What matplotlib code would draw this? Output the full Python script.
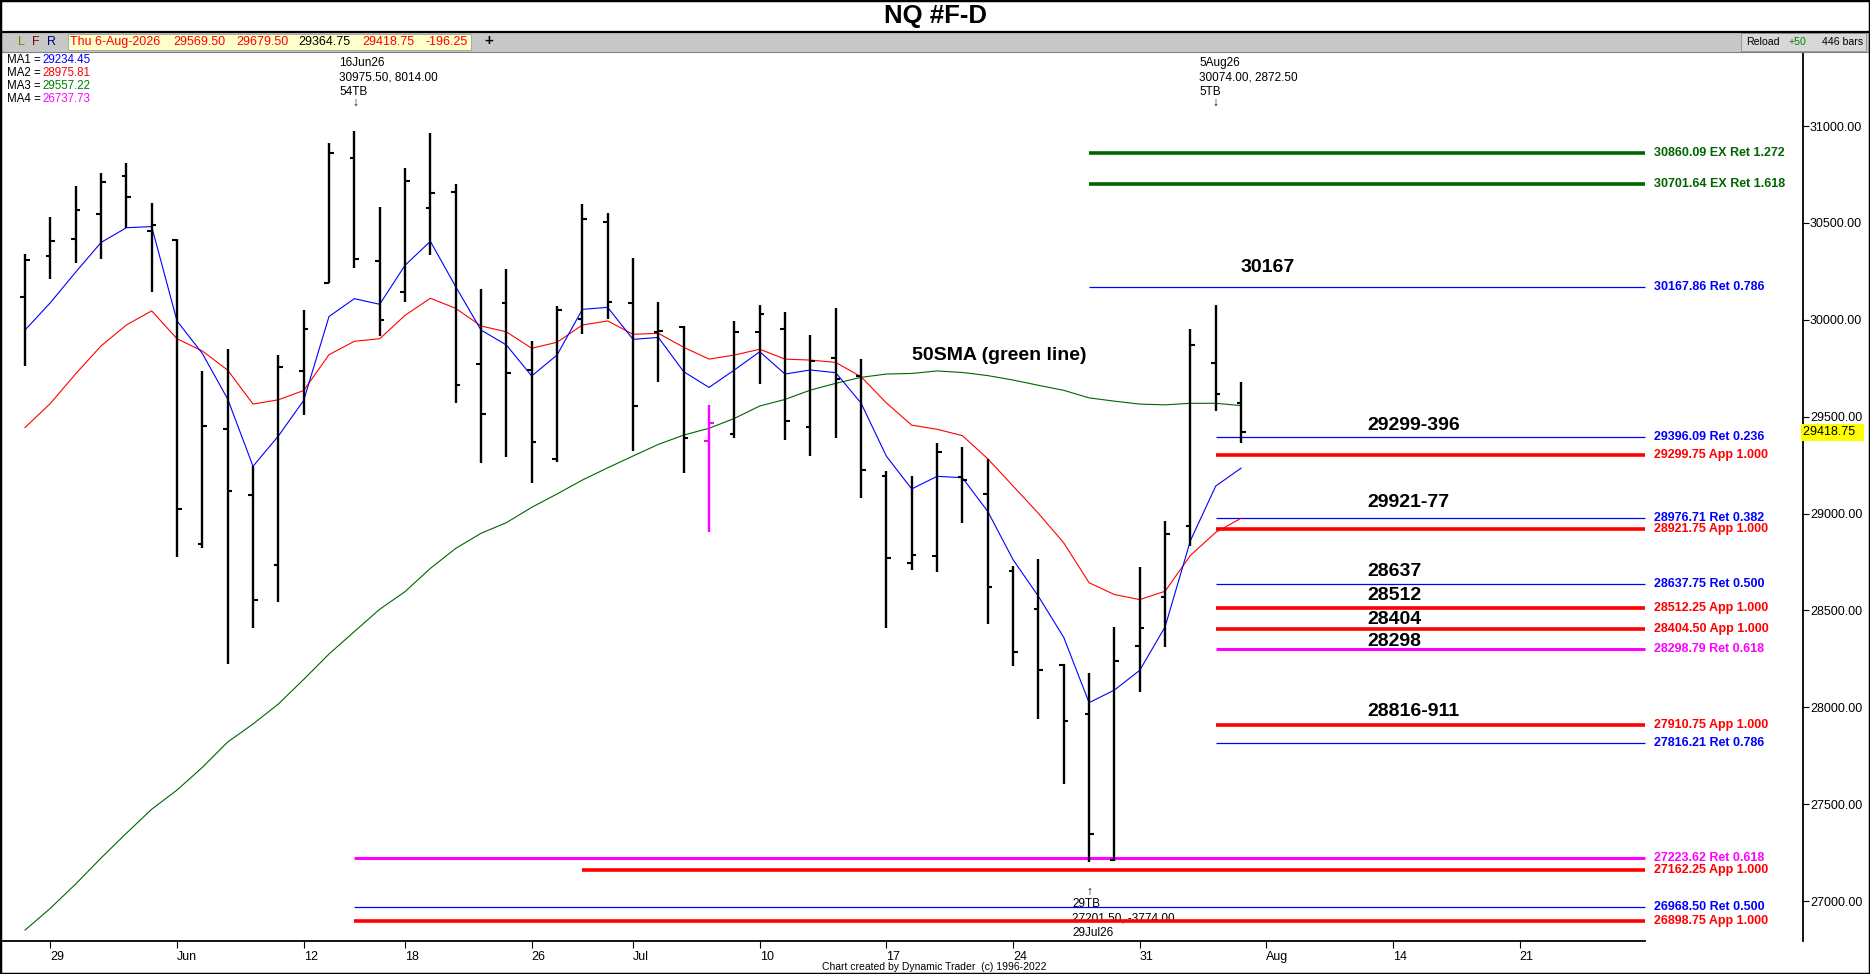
import matplotlib
matplotlib.use("Agg")
import matplotlib.pyplot as plt
import matplotlib.transforms as mtransforms
from matplotlib.patches import Rectangle
import numpy as np

plt.rcParams['font.family'] = ['Liberation Sans', 'DejaVu Sans']

# daily bars, 28 May 2026 .. 6 Aug 2026
opens = [30118, 30330, 30418, 30548, 30742, 30456, 30414, 28843, 29438, 29095,
         28734, 29735, 30191, 30836, 30303, 30145, 30577, 30661, 29772, 30088,
         29741, 29280, 30004, 30506, 30088, 29935, 29961, 29376, 29412, 29938,
         29954, 29448, 29804, 29710, 29192, 28747, 28779, 29190, 29103, 28703,
         28506, 28220, 27966, 27210, 28317, 28567, 28936, 29777, 29569.50]
highs = [30342, 30532, 30689, 30760, 30808, 30602, 30418, 29738, 29847, 29244,
         29820, 30049, 30911, 30975.50, 30580, 30781, 30966, 30699, 30157, 30260,
         29889, 30069, 30596, 30549, 30317, 30090, 29969, 29560, 29994, 30075,
         30040, 29921, 30061, 29797, 29218, 29192, 29363, 29341, 29283, 28730,
         28766, 28226, 28176, 28415, 28723, 28961, 29955, 30074.00, 29679.50]
lows = [29759, 30212, 30292, 30315, 30475, 30145, 28778, 28820, 28224, 28407,
        28545, 29509, 30191, 30269, 29918, 30093, 30332, 29572, 29262, 29293,
        29156, 29268, 29928, 30004, 29324, 29680, 29208, 28906, 29391, 29670,
        29381, 29298, 29391, 29078, 28409, 28708, 28697, 28951, 28430, 28215,
        27942, 27606, 27201.50, 27205, 28079, 28313, 28834, 29528, 29364.75]
closes = [30309, 30409, 30567, 30712, 30634, 30489, 29024, 29452, 29118, 28554,
          29754, 29952, 30861, 30315, 30000, 30718, 30655, 29663, 29515, 29727,
          29371, 30050, 30522, 30093, 29556, 29943, 29391, 29469, 29938, 30031,
          29479, 29789, 29696, 29226, 28773, 28784, 29320, 29175, 28623, 28285,
          28191, 27929, 27346, 28241, 28409, 28892, 29869, 29615, 29418.75]
highlight_bar = 27

ma1 = [29947, 30088, 30246, 30399, 30475, 30481, 29994, 29826, 29591, 29244,
       29400, 29584, 30017, 30109, 30080, 30281, 30405, 30171, 29947, 29870,
       29710, 29818, 30054, 30064, 29899, 29909, 29732, 29651, 29741, 29835,
       29720, 29741, 29727, 29570, 29296, 29127, 29192, 29185, 29011, 28762,
       28573, 28361, 28024, 28089, 28191, 28415, 28860, 29142, 29234.45]
ma2 = [29444, 29568, 29721, 29865, 29973, 30046, 29902, 29839, 29740, 29565,
       29587, 29635, 29820, 29889, 29902, 30023, 30111, 30059, 29968, 29938,
       29853, 29884, 29973, 29994, 29925, 29930, 29858, 29797, 29818, 29848,
       29797, 29792, 29780, 29706, 29571, 29456, 29435, 29402, 29283, 29142,
       29001, 28849, 28643, 28582, 28556, 28599, 28784, 28903, 28975.81]
ma3 = [26850, 26963, 27088, 27222, 27350, 27474, 27573, 27690, 27821, 27914,
       28017, 28144, 28275, 28391, 28506, 28597, 28717, 28820, 28898, 28953,
       29032, 29101, 29173, 29236, 29297, 29357, 29405, 29440, 29491, 29555,
       29589, 29637, 29672, 29703, 29720, 29723, 29736, 29728, 29712, 29689,
       29662, 29636, 29597, 29580, 29565, 29561, 29569, 29569, 29557.22]
ma_names = ['MA1', 'MA2', 'MA3', 'MA4']
ma_last = ['29234.45', '28975.81', '29557.22', '26737.73']

tick_pos = [1, 6, 11, 15, 20, 24, 29, 34, 39, 44, 49, 54, 59]
tick_lbl = ['29', 'Jun', '12', '18', '26', 'Jul', '10', '17', '24', '31', 'Aug', '14', '21']

fib_price = [30860.09, 30701.64, 30167.86, 29396.09, 29299.75, 28976.71, 28921.75,
             28637.75, 28512.25, 28404.50, 28298.79, 27910.75, 27816.21,
             27223.62, 27162.25, 26968.50, 26898.75]
fib_name = ['EX Ret 1.272', 'EX Ret 1.618', 'Ret 0.786', 'Ret 0.236', 'App 1.000',
            'Ret 0.382', 'App 1.000', 'Ret 0.500', 'App 1.000', 'App 1.000',
            'Ret 0.618', 'App 1.000', 'Ret 0.786', 'Ret 0.618', 'App 1.000',
            'Ret 0.500', 'App 1.000']
fib_start = [42, 42, 42, 47, 47, 47, 47, 47, 47, 47, 47, 47, 47, 13, 22, 13, 13]
fib_kind = ['ex', 'ex', 'ret', 'ret', 'app', 'ret', 'app', 'ret', 'app', 'app',
            'ret2', 'app', 'ret', 'ret2', 'app', 'ret', 'app']

zones = ['30167', '50SMA (green line)', '29299-396', '29921-77', '28637', '28512',
         '28404', '28298', '28816-911']

# ---------------------------------------------------------------------------
W, H = 1870, 974
fig = plt.figure(figsize=(W / 100, H / 100), dpi=100)


def fx(x):
    return x / W


def fy(y):
    return 1 - y / H


ax = fig.add_axes([0, fy(941), fx(1803), fy(52) - fy(941)])
ax.set_xlim(-0.987, 70.18)
ax.set_ylim(26794, 31382)

style = {'ex': ('#006400', 2.6), 'ret': ('#0000ff', 0.9),
         'app': ('#ff0000', 2.6), 'ret2': ('#ff00ff', 2.2)}
line_end = 63.95
for p, name, s, k in zip(fib_price, fib_name, fib_start, fib_kind):
    col, lw = style[k]
    ax.hlines(p, s, line_end, colors=col, lw=lw, zorder=2)
    ax.text(line_end + 0.35, p, f'{p:.2f} {name}', color=col, fontsize=9,
            fontweight='bold', ha='left', va='center', zorder=5)

x = np.arange(len(closes))
ax.plot(x, ma3, color='#006400', lw=0.8, zorder=3)
ax.plot(x, ma2, color='#ff0000', lw=0.8, zorder=3)
ax.plot(x, ma1, color='#0000ff', lw=0.8, zorder=3)

cols = ['#ff00ff' if i == highlight_bar else 'black' for i in x]
ax.vlines(x, lows, highs, colors=cols, lw=1.7, zorder=4)
ax.hlines(opens, x - 0.18, x, colors=cols, lw=1.5, zorder=4)
ax.hlines(closes, x, x + 0.18, colors=cols, lw=1.5, zorder=4)

for s in ['top', 'left']:
    ax.spines[s].set_visible(False)
ax.spines['right'].set_linewidth(1.3)
ax.spines['bottom'].set_linewidth(1.3)
ax.spines['bottom'].set_bounds(-0.987, line_end)

ax.yaxis.tick_right()
yt = np.arange(27000, 31001, 500)
ax.set_yticks(yt)
ax.set_yticklabels([f'{v:.2f}' for v in yt])
ax.tick_params(axis='y', direction='out', length=4, pad=1, labelsize=9)
ax.set_xticks(tick_pos)
ax.set_xticklabels(tick_lbl)
ax.tick_params(axis='x', direction='out', length=5, pad=2, labelsize=9)
for t in ax.get_xticklabels():
    t.set_ha('left')

blend = mtransforms.blended_transform_factory(ax.transAxes, ax.transData)
ax.text(1.0, closes[-1], f'{closes[-1]:.2f}  ', transform=blend, ha='left',
        va='center', fontsize=9, zorder=6,
        bbox=dict(facecolor='#ffff00', edgecolor='none', pad=1.5))


def ftext(x0, y0, s, **kw):
    ax.text(fx(x0), fy(y0), s, transform=fig.transFigure, **kw)


# zone notes
zone_xy = [(1241, 267), (912, 356), (1367, 425), (1367, 502), (1367, 572),
           (1367, 596), (1367, 619), (1367, 642), (1367, 711)]
for s, (x0, y0) in zip(zones, zone_xy):
    ftext(x0, y0, s, fontsize=14, fontweight='bold', ha='left', va='center',
          zorder=6)

# swing labels
for x0, lines in [(339, ['16Jun26', '30975.50, 8014.00', '54TB']),
                  (1199, ['5Aug26', '30074.00, 2872.50', '5TB'])]:
    for j, s in enumerate(lines):
        ftext(x0, 63 + 14.5 * j, s, fontsize=8.5, ha='left', va='center', zorder=6)
    ftext(x0 + 16, 103, '\u2193', fontsize=8.5, ha='center', va='center', zorder=6)
ftext(1089, 892, '\u2191', fontsize=8.5, ha='center', va='center', zorder=6)
for j, s in enumerate(['29TB', '27201.50, -3774.00', '29Jul26']):
    ftext(1072, 904 + 14.5 * j, s, fontsize=8.5, ha='left', va='center', zorder=1)

# MA legend
for j, (n, v, c) in enumerate(zip(ma_names, ma_last,
                                  ['#0000ff', '#ff0000', '#008000', '#ff00ff'])):
    ftext(7, 60 + 13 * j, n + ' =', fontsize=8.3, ha='left', va='center', zorder=6)
    ftext(42, 60 + 13 * j, v, fontsize=8.3, color=c, ha='left', va='center', zorder=6)

# header
fig.patches.append(Rectangle((0, fy(52)), 1, fy(32) - fy(52), transform=fig.transFigure,
                             facecolor='#c8c8c8', edgecolor='none', zorder=0))
fig.add_artist(plt.Line2D([0, 1], [fy(32), fy(32)], color='black', lw=1.6,
                          transform=fig.transFigure))
fig.add_artist(plt.Line2D([0, 1], [fy(52), fy(52)], color='#808080', lw=0.8,
                          transform=fig.transFigure))
fig.patches.append(Rectangle((fx(68), fy(50)), fx(471) - fx(68), fy(34) - fy(50),
                             transform=fig.transFigure, facecolor='#ffffcc',
                             edgecolor='#a0a0a0', lw=0.6, zorder=1))
fig.patches.append(Rectangle((fx(1741), fy(51)), fx(1866) - fx(1741), fy(33) - fy(51),
                             transform=fig.transFigure, facecolor='#d8d8d8',
                             edgecolor='#909090', lw=0.6, zorder=1))
fig.text(0.5, fy(16), 'NQ #F-D', fontsize=18.5, fontweight='bold', ha='center', va='center')
for x0, s, c in [(21, 'L', '#808000'), (36, 'F', '#800000'), (51, 'R', '#000080')]:
    fig.text(fx(x0), fy(42), s, fontsize=9, color=c, ha='center', va='center')
hdr = [(70, 'Thu 6-Aug-2026', '#ff0000'), (173, '29569.50', '#ff0000'),
       (236, '29679.50', '#ff0000'), (298, '29364.75', 'black'),
       (362, '29418.75', '#ff0000'), (425, '-196.25', '#ff0000')]
for x0, s, c in hdr:
    fig.text(fx(x0), fy(42), s, fontsize=9, color=c, ha='left', va='center')
fig.text(fx(489), fy(41), '+', fontsize=11, fontweight='bold', ha='center', va='center')
fig.text(fx(1746), fy(42), 'Reload', fontsize=7.6, ha='left', va='center')
fig.text(fx(1789), fy(42), '+50', fontsize=7.6, color='#008000', ha='left', va='center')
fig.text(fx(1822), fy(42), '446 bars', fontsize=7.6, ha='left', va='center')

fig.text(fx(934), fy(967), 'Chart created by Dynamic Trader  (c) 1996-2022',
         fontsize=7.5, ha='center', va='center')
fig.patches.append(Rectangle((0, 0), 1, 1, transform=fig.transFigure, fill=False,
                             edgecolor='black', lw=2.5, zorder=10))

fig.savefig('out.png', dpi=100, facecolor='white')
